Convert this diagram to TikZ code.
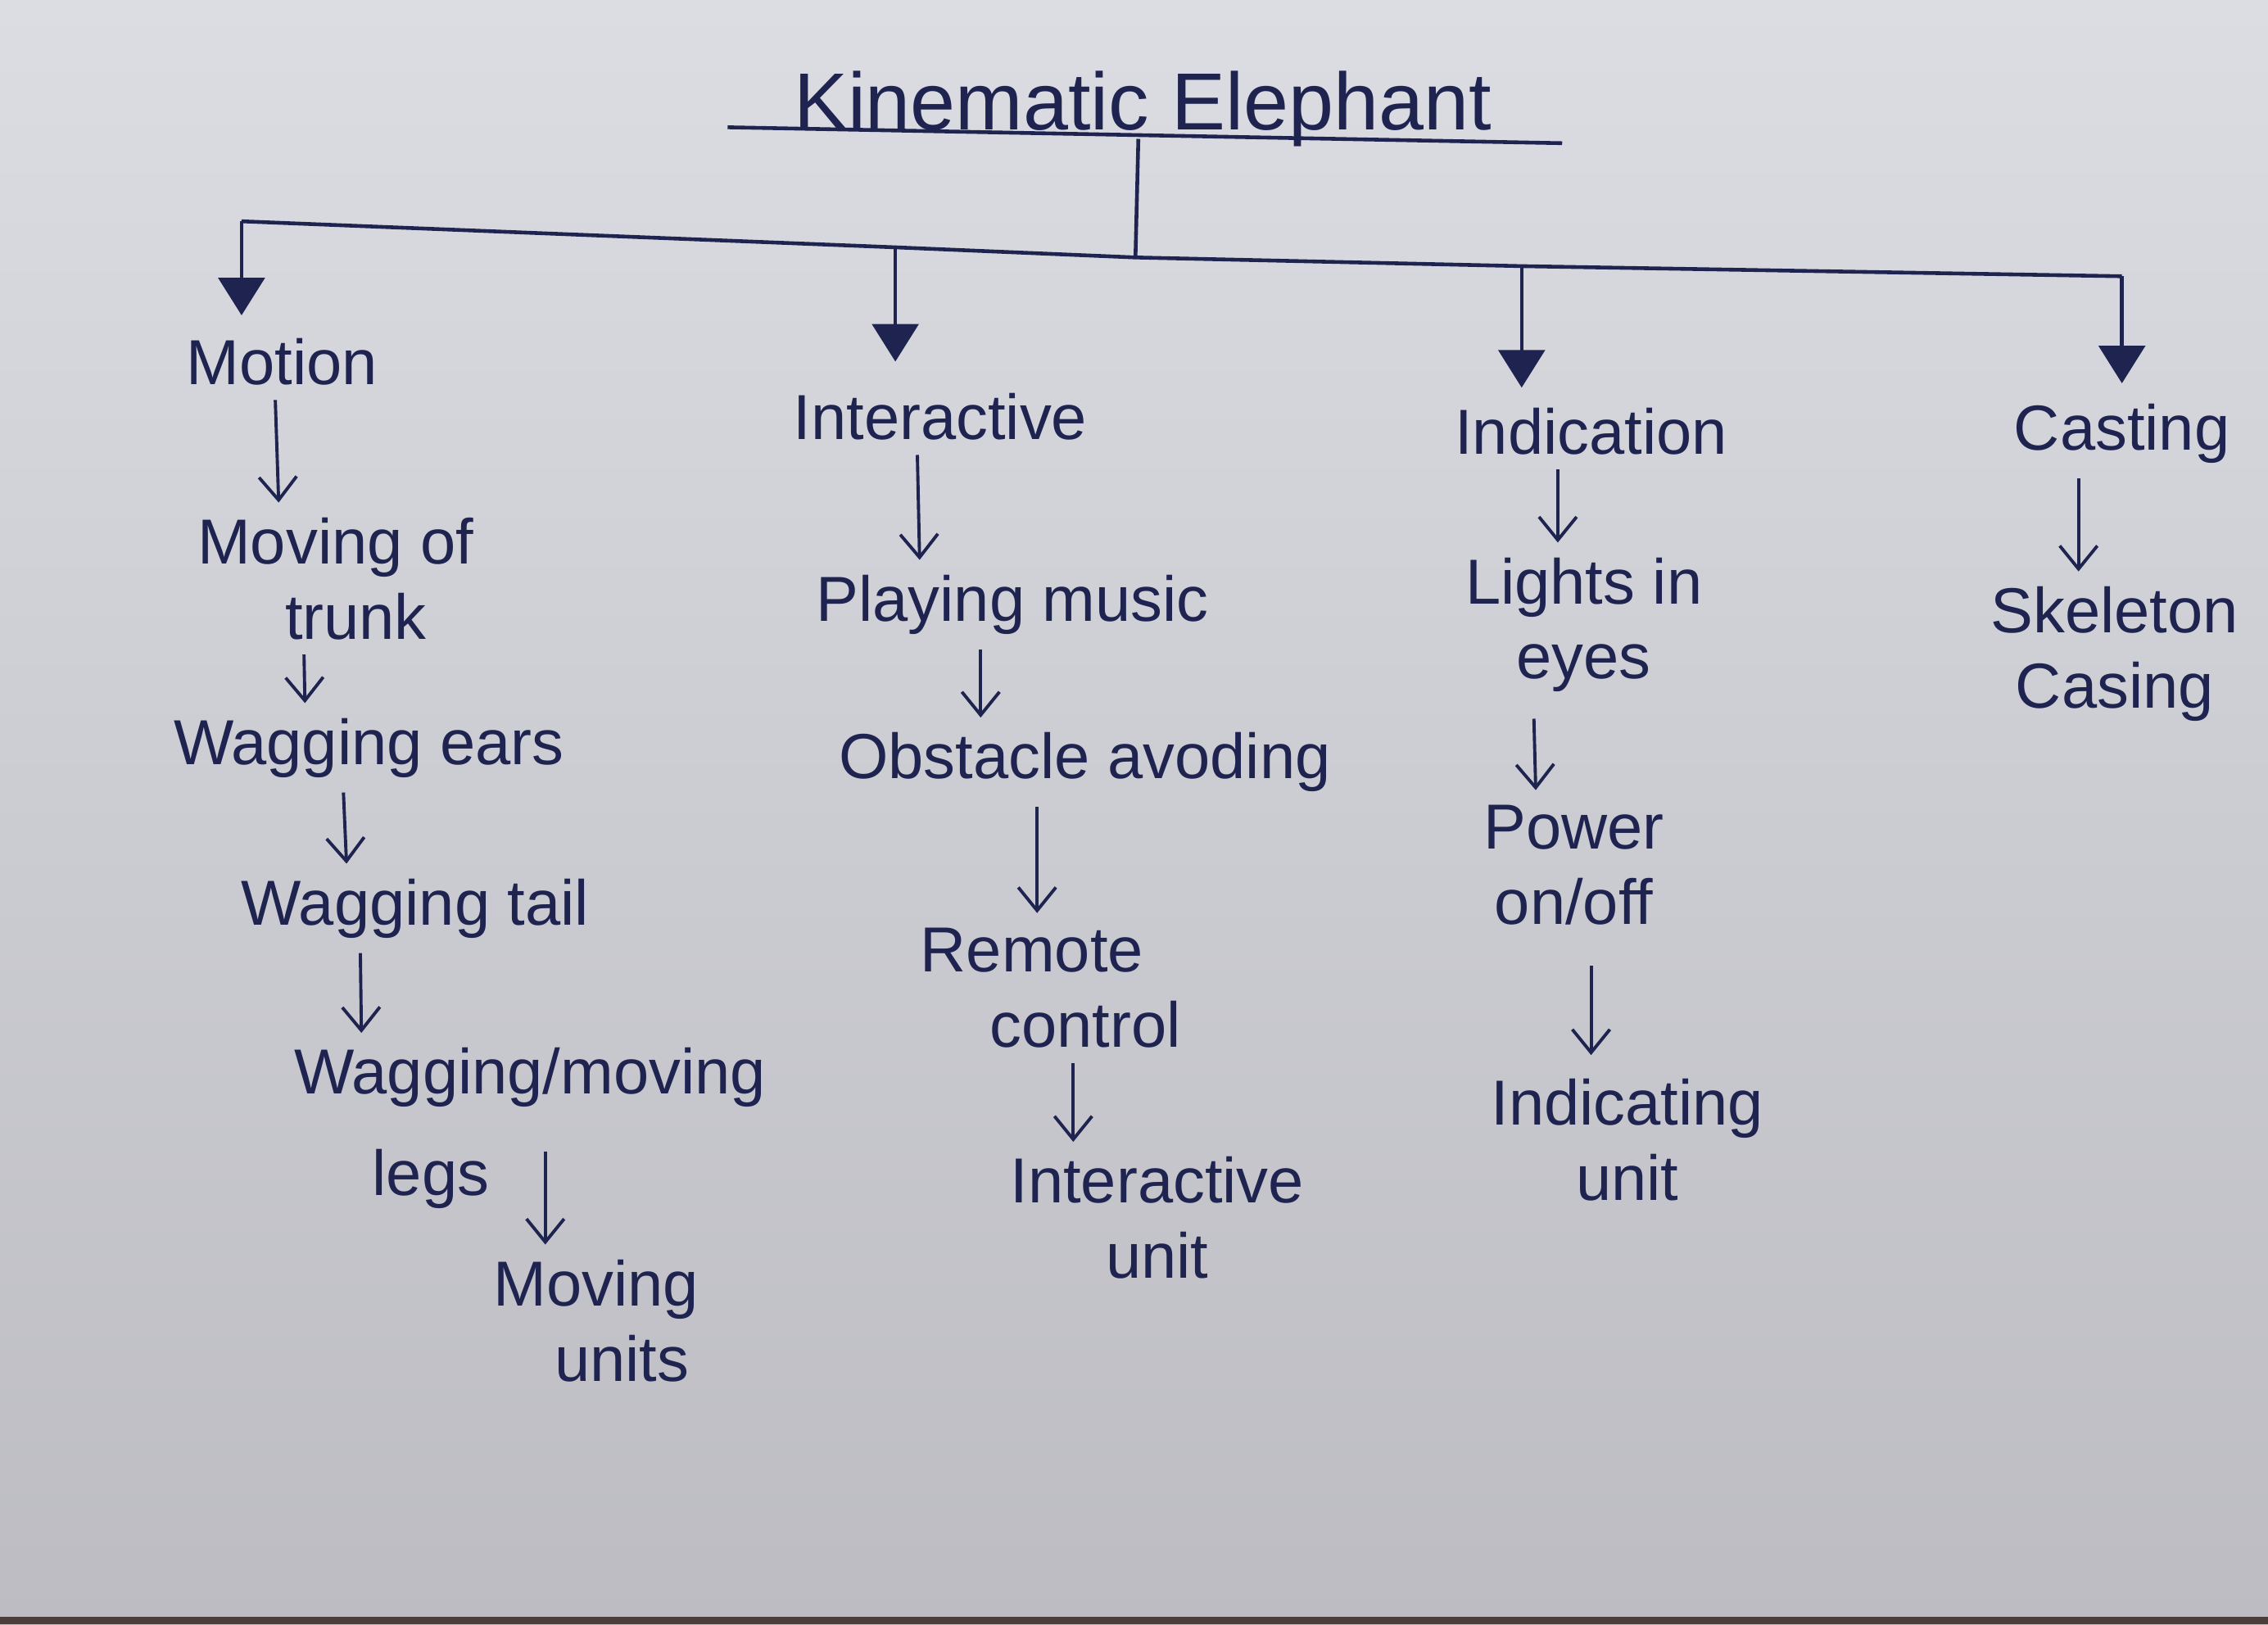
\documentclass[tikz,border=0pt]{standalone}
\usepackage{fontspec}
\setmainfont{Liberation Sans}
\usetikzlibrary{arrows.meta}
\definecolor{ink}{HTML}{1F2350}
\definecolor{papertop}{HTML}{DBDDE3}
\definecolor{paperbot}{HTML}{BCBCC2}
\definecolor{tabletop}{HTML}{4B3D3A}
\tikzset{
  lbl/.style={inner sep=0pt, text=ink, align=center,
    font=\fontsize{22}{26}\selectfont},
  ttl/.style={inner sep=0pt, text=ink, font=\fontsize{28}{32}\selectfont},
  trunkline/.style={draw=ink, line width=1.3pt},
  droparrow/.style={draw=ink, line width=1.3pt,
    -{Triangle[width=16pt,length=13pt]}},
  sarrow/.style={draw=ink, line width=1.1pt,
    -{Straight Barb[length=8pt,width=13pt,line width=1.1pt]},
    shorten <=5pt, shorten >=5pt}
}
\begin{document}
\begin{tikzpicture}[x=0.5pt,y=-0.5pt]
% sheet of paper and table edge
\shade[top color=papertop, bottom color=paperbot] (0,0) rectangle (1568,1123);
\fill[tabletop] (0,1118) rectangle (1568,1123);
\useasboundingbox (0,0) rectangle (1568,1123);

% title with underline and stem
\node[ttl, anchor=base] (title) at (790,90) {Kinematic Elephant};
\coordinate (ul1) at (503,88);
\coordinate (ul2) at (1080,99);
\draw[trunkline] (ul1) -- (ul2);
\coordinate (stem) at (787,96);
\coordinate (hub) at (785,178);
\draw[trunkline] (stem) -- (hub);

% branch bar
\coordinate (b1) at (167,153);
\coordinate (b2) at (619,171);
\coordinate (b3) at (1052,184);
\coordinate (b4) at (1467,191);
\draw[trunkline] (b1) -- (b2) -- (hub) -- (b3) -- (b4);

% category headings
\node[lbl] (motion)  at (195,250) {Motion};
\node[lbl] (inter)   at (650,288) {Interactive};
\node[lbl] (indic)   at (1100,298) {Indication};
\node[lbl] (casting) at (1467,300) {Casting};

\coordinate (t1) at (167,218);
\coordinate (t2) at (619,250);
\coordinate (t3) at (1052,268);
\coordinate (t4) at (1467,265);
\draw[droparrow] (b1) -- (t1);
\draw[droparrow] (b2) -- (t2);
\draw[droparrow] (b3) -- (t3);
\draw[droparrow] (b4) -- (t4);

% motion chain
\node[lbl] (trunk) at (232,400) {Moving of\\\hspace*{14pt}trunk};
\node[lbl] (ears)  at (255,517) {Wagging ears};
\node[lbl] (tail)  at (287,628) {Wagging tail};
\node[lbl, align=left, anchor=west] (legs) at (203,780)
  {Wagging/moving\\[9pt]\hspace*{27pt}legs};
\node[lbl] (units) at (412,913) {Moving\\\hspace*{18pt}units};

\draw[sarrow] (motion.south -| 190,0) -- (trunk.north -| 193,0);
\draw[sarrow] (trunk.south -| 210,0) -- (ears.north -| 211,0);
\draw[sarrow] (ears.south -| 237,0) -- (tail.north -| 240,0);
\draw[sarrow] (tail.south -| 249,0) -- (legs.north -| 250,0);
\draw[sarrow, shorten <=8pt] (legs.center -| 377,0) -- (units.north -| 377,0);

% interactive chain
\node[lbl] (play)   at (700,418) {Playing music};
\node[lbl] (obst)   at (750,527) {Obstacle avoding};
\node[lbl, align=left, anchor=west] (remote) at (636,683)
  {Remote\\\hspace*{24pt}control};
\node[lbl] (iunit)  at (800,842) {Interactive\\unit};

\draw[sarrow] (inter.south -| 634,0) -- (play.north -| 636,0);
\draw[sarrow] (play.south -| 678,0) -- (obst.north -| 678,0);
\draw[sarrow] (obst.south -| 717,0) -- (remote.north -| 717,0);
\draw[sarrow] (remote.south -| 742,0) -- (iunit.north -| 742,0);

% indication chain
\node[lbl] (lights)  at (1095,432) {Lights in\\eyes};
\node[lbl] (power)   at (1088,598) {Power\\on/off};
\node[lbl] (indunit) at (1125,788) {Indicating\\unit};

\draw[sarrow] (indic.south -| 1077,0) -- (lights.north -| 1077,0);
\draw[sarrow, shorten <=9pt] (lights.south -| 1060,0) -- (power.north -| 1062,0);
\draw[sarrow, shorten <=14pt, shorten >=8pt] (power.south -| 1100,0) -- (indunit.north -| 1100,0);

% casting chain
\node[lbl] (skel) at (1462,452) {Skeleton\\Casing};
\draw[sarrow] (casting.south -| 1437,0) -- (skel.north -| 1437,0);
\end{tikzpicture}
\end{document}
